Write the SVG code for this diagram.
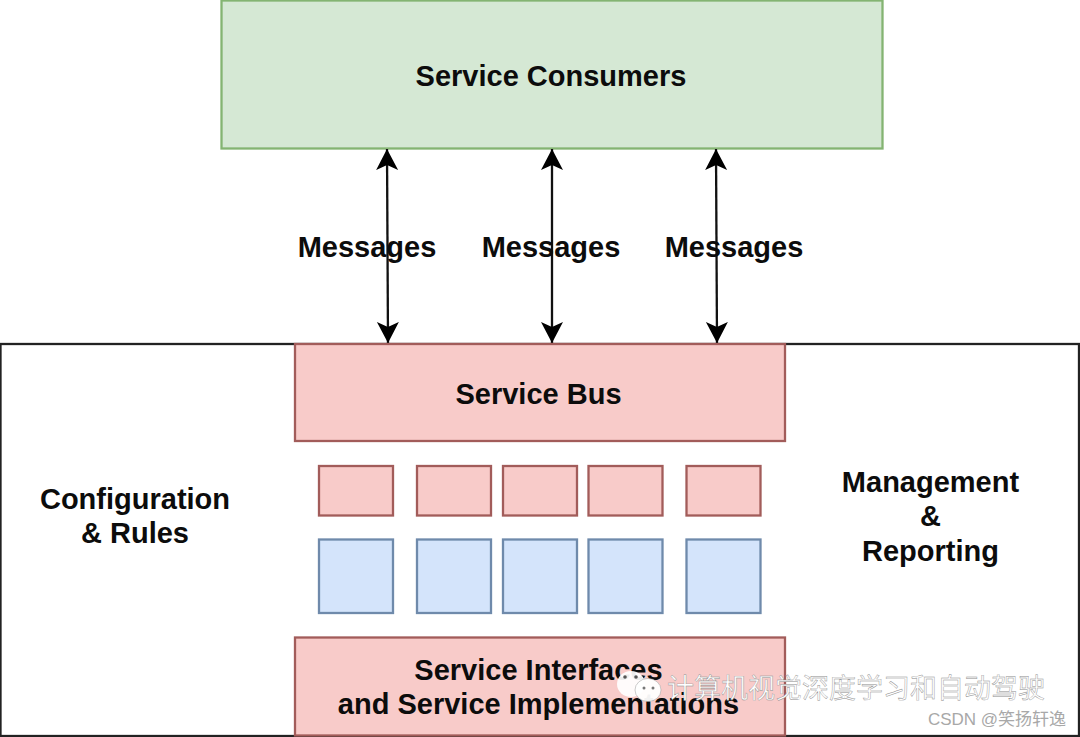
<svg xmlns="http://www.w3.org/2000/svg" width="1080" height="737" viewBox="0 0 1080 737">
<style>
text{font-family:"Liberation Sans",Arial,sans-serif;font-weight:700;font-size:29px;fill:#0c0c0c;text-anchor:middle}
.r{fill:#f8cbc9;stroke:#a25c5a;stroke-width:2.300}
.b{fill:#d4e4fb;stroke:#6f8aab;stroke-width:2.300}
.c{stroke:#111;stroke-width:2.300;fill:none;marker-start:url(#a);marker-end:url(#a)}
.wm{font-family:"Liberation Sans","Noto Sans CJK SC",sans-serif;font-weight:400;fill:#fff;stroke:#8a8a8a;stroke-width:.4px}
</style>
<defs>
<marker id="a" markerUnits="userSpaceOnUse" markerWidth="24" markerHeight="24" refX="21" refY="11" orient="auto-start-reverse" viewBox="0 0 24 22"><path d="M0 0L21 11L0 22L5 11Z" fill="#000"/></marker>
</defs>
<rect width="1080" height="737" fill="#fff"/>
<g id="outer"><rect x="0.500" y="344" width="1078.500" height="392" fill="#fff" stroke="#222" stroke-width="2.300"/></g>
<g id="consumers"><rect x="221.500" y="0.500" width="661" height="148" fill="#d5e8d4" stroke="#84b472" stroke-width="2.300"/><text x="551" y="85.500">Service Consumers</text></g>
<g id="connectors">
<path class="c" d="M387 149L388 343"/>
<path class="c" d="M552 149L552 343"/>
<path class="c" d="M716 149L717 343"/>
</g>
<g id="msg1"><text x="367" y="257">Messages</text></g>
<g id="msg2"><text x="551" y="257">Messages</text></g>
<g id="msg3"><text x="734" y="257">Messages</text></g>
<g id="bus"><rect class="r" x="295" y="344" width="490" height="97"/><text x="538.500" y="403.500">Service Bus</text></g>
<g id="config"><text x="135" y="508.500">Configuration</text><text x="135" y="542.500">&amp; Rules</text></g>
<g id="mgmt"><text x="930.500" y="491.500">Management</text><text x="930.500" y="526">&amp;</text><text x="930.500" y="560.500">Reporting</text></g>
<g id="red1"><rect class="r" x="319" y="466" width="74" height="49.500"/></g>
<g id="red2"><rect class="r" x="417" y="466" width="74" height="49.500"/></g>
<g id="red3"><rect class="r" x="503" y="466" width="74" height="49.500"/></g>
<g id="red4"><rect class="r" x="588.500" y="466" width="74" height="49.500"/></g>
<g id="red5"><rect class="r" x="686.500" y="466" width="74" height="49.500"/></g>
<g id="blue1"><rect class="b" x="319" y="539.500" width="74" height="73.500"/></g>
<g id="blue2"><rect class="b" x="417" y="539.500" width="74" height="73.500"/></g>
<g id="blue3"><rect class="b" x="503" y="539.500" width="74" height="73.500"/></g>
<g id="blue4"><rect class="b" x="588.500" y="539.500" width="74" height="73.500"/></g>
<g id="blue5"><rect class="b" x="686.500" y="539.500" width="74" height="73.500"/></g>
<g id="impl"><rect class="r" x="295" y="637.500" width="490" height="98"/><text x="538.500" y="680">Service Interfaces</text><text x="538.500" y="714">and Service Implementations</text></g>
<g id="watermark">
<ellipse cx="631" cy="684" rx="14" ry="13" fill="#fff" fill-opacity=".92"/>
<ellipse cx="648" cy="690" rx="13" ry="11.500" fill="#fff" fill-opacity=".95" stroke="#999" stroke-width=".5"/>
<circle cx="625" cy="677" r="1.800" fill="#555"/><circle cx="636" cy="677" r="1.800" fill="#555"/>
<circle cx="644" cy="688" r="1.500" fill="#777"/><circle cx="653" cy="688" r="1.500" fill="#777"/>
<text class="wm" x="856" y="698" style="font-size:27px">计算机视觉深度学习和自动驾驶</text>
<text x="997" y="725" style="font-family:'Liberation Sans','Noto Sans CJK SC',sans-serif;font-weight:400;font-size:17px;fill:#a8a8a8">CSDN @笑扬轩逸</text>
</g>
</svg>
